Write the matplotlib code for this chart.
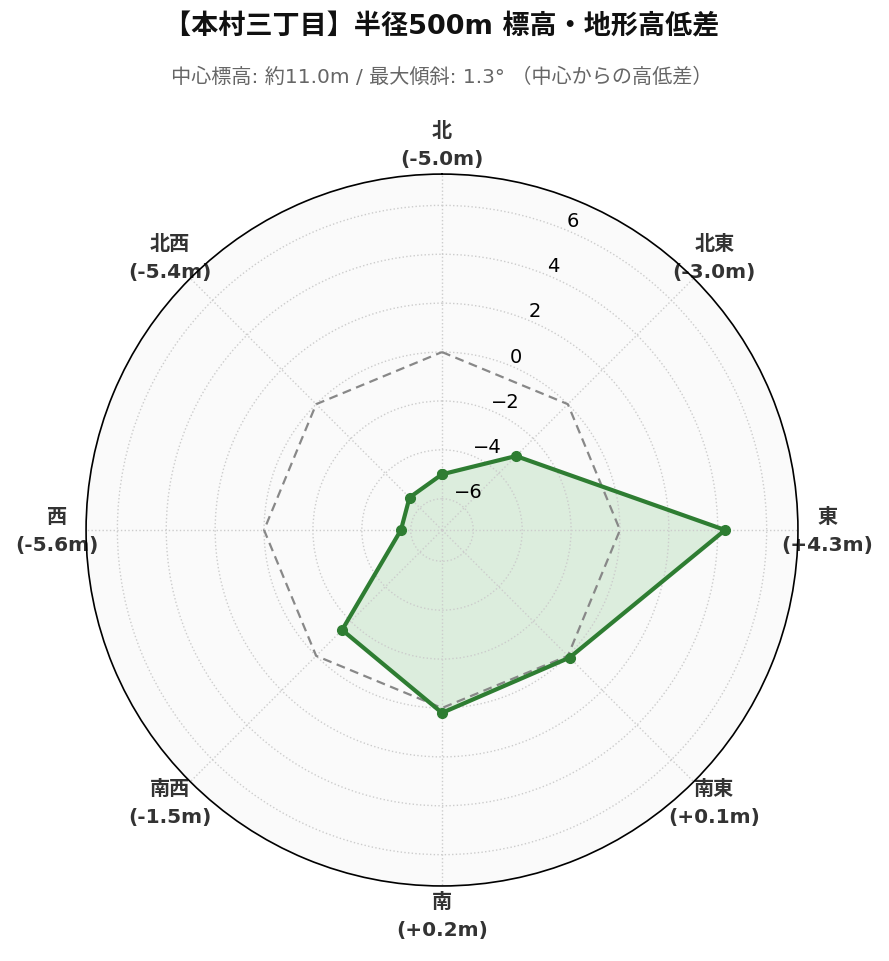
import numpy as np
import matplotlib
matplotlib.use("Agg")
import matplotlib.pyplot as plt

plt.rcParams['font.family'] = ['DejaVu Sans', 'Noto Sans CJK JP']
plt.rcParams['axes.unicode_minus'] = True

# 方位と中心からの高低差(m)
directions = ["北", "北東", "東", "南東", "南", "南西", "西", "北西"]
diffs = [-5.0, -3.0, 4.3, 0.1, 0.2, -1.5, -5.6, -5.4]
rticks = [-6, -4, -2, 0, 2, 4, 6]

title = "【本村三丁目】半径500m 標高・地形高低差"
subtitle = "中心標高: 約11.0m / 最大傾斜: 1.3° （中心からの高低差）"

n = len(directions)
angles = np.linspace(0, 2 * np.pi, n, endpoint=False)
ang_c = np.append(angles, angles[0])
val_c = np.append(diffs, diffs[0])
lim = max(abs(v) for v in diffs) * 1.3

fig = plt.figure(figsize=(8.89, 9.62), dpi=100)
ax = fig.add_axes([0.0967, 0.078, 0.801, 0.740], projection="polar")
ax.set_theta_zero_location("N")
ax.set_theta_direction(-1)
ax.set_facecolor("#fafafa")

# 基準線(高低差0)
ax.plot(ang_c, np.zeros(len(ang_c)), color="#888888", lw=1.6, ls="--", dashes=(4, 2.5))

ax.fill(ang_c, val_c, color="#4caf50", alpha=0.17, lw=0)
ax.plot(ang_c, val_c, color="#2e7d32", lw=3.0, marker="o", ms=7)

ax.set_ylim(-lim, lim)
ax.set_yticks(rticks)
ax.set_rlabel_position(22.5)
ax.tick_params(axis="y", labelsize=14, colors="black")

labels = [f"{d}\n({v:+.1f}m)" for d, v in zip(directions, diffs)]
ax.set_xticks(angles)
ax.set_xticklabels(labels, fontsize=14.5, fontweight="bold", color="#333333",
                   linespacing=1.6)
ax.tick_params(axis="x", pad=10.5)

ax.grid(True, color="#cccccc", ls=":", lw=1.0)
ax.spines["polar"].set_color("black")
ax.spines["polar"].set_linewidth(1.2)

fig.text(0.497, 0.971, title, ha="center", va="center", fontsize=19.5,
         fontweight="bold", color="#111111")
fig.text(0.497, 0.920, subtitle, ha="center", va="center", fontsize=14.5,
         color="#666666")

fig.savefig("out.png", dpi=100)
